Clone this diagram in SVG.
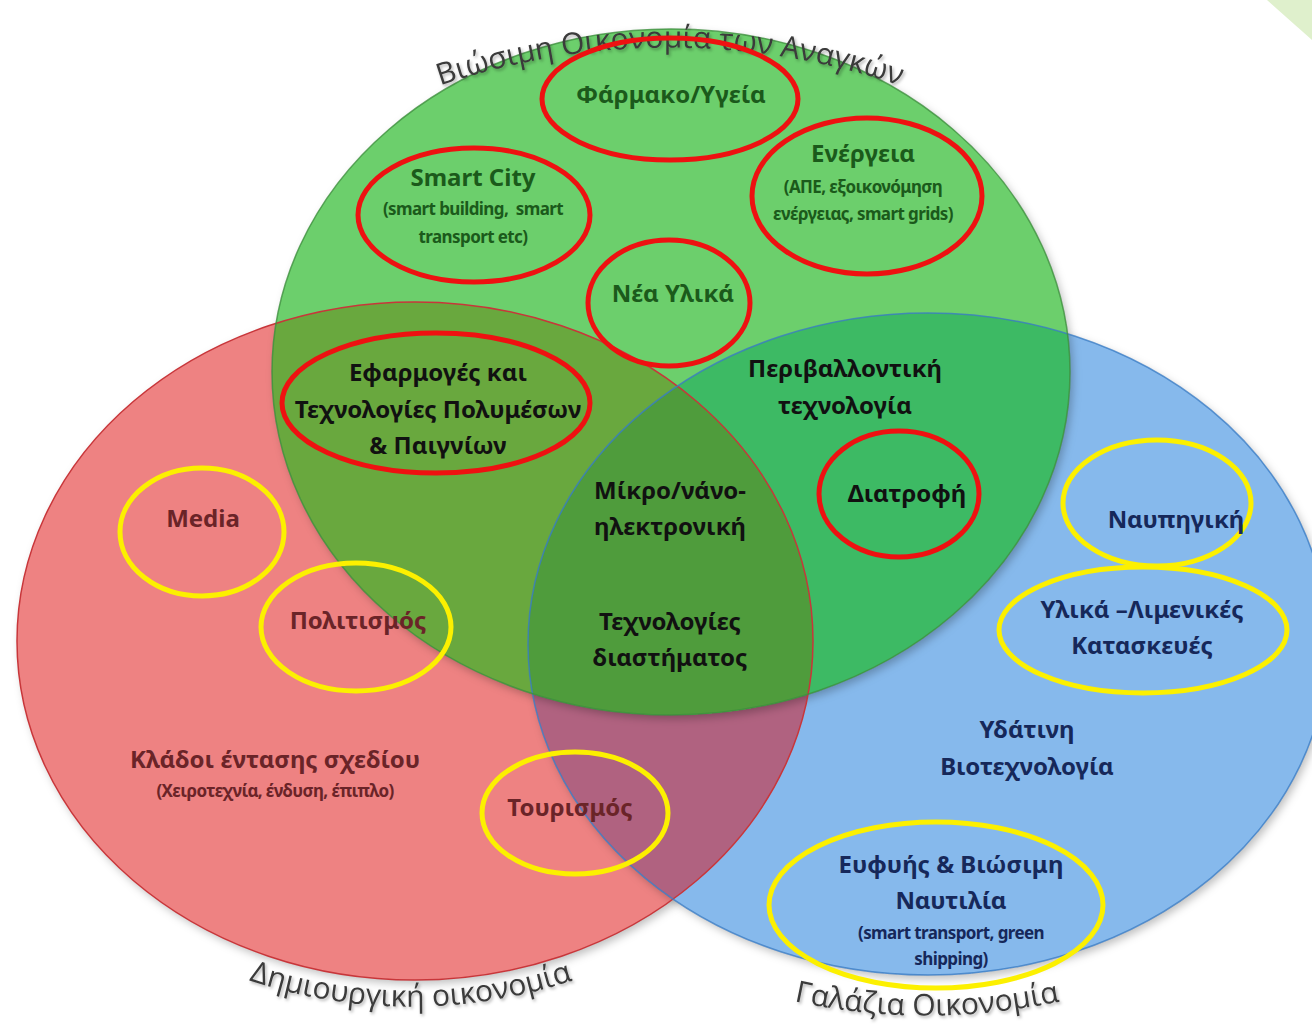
<svg xmlns="http://www.w3.org/2000/svg" xmlns:xlink="http://www.w3.org/1999/xlink" width="1312" height="1025" viewBox="0 0 1312 1025">
<style>
.t{font-family:"Noto Sans","Open Sans","DejaVu Sans",sans-serif;font-weight:bold;text-anchor:middle;font-size:24px}
.s{font-size:17px;letter-spacing:-0.6px}
.g{fill:#1b5a1b}
.k{fill:#111}
.m{fill:#6a2428}
.b{fill:#16285a}
.ring{fill:none;stroke-width:5}
.rr{stroke:#ee1111}
.yy{stroke:#fcf000}
.arc{font-family:"Open Sans","Noto Sans","DejaVu Sans",sans-serif;font-size:30px;fill:#3a3a3a}
</style>
<defs>
<filter id="sh" x="-10%" y="-10%" width="120%" height="120%">
<feDropShadow dx="3" dy="4" stdDeviation="4" flood-color="#000" flood-opacity="0.25"/>
</filter>
<filter id="tsh" x="-5%" y="-20%" width="110%" height="140%">
<feDropShadow dx="1.5" dy="2" stdDeviation="1.5" flood-color="#000" flood-opacity="0.3"/>
</filter>
<clipPath id="cRed"><ellipse cx="415" cy="641" rx="398" ry="339"/></clipPath>
<clipPath id="cBlue"><ellipse cx="928" cy="644" rx="400" ry="331"/></clipPath>
<path id="pTop" d="M 380,109 A 715 715 0 0 1 960,109"/>
<path id="pLeft" d="M 200,961 A 511 511 0 0 0 622,961"/>
<path id="pRight" d="M 700,973 A 627 627 0 0 0 1154,973"/>
</defs>
<rect width="1312" height="1025" fill="#fff"/>
<polygon points="1267,0 1312,0 1312,40" fill="#dff0cc"/>

<g id="circles">
<g id="red-circle">
<ellipse cx="415" cy="641" rx="398" ry="339" fill="#ee8282" filter="url(#sh)"/>
</g>
<g id="blue-circle">
<ellipse cx="928" cy="644" rx="400" ry="331" fill="#86b9ec" filter="url(#sh)"/>
<g clip-path="url(#cRed)"><ellipse cx="928" cy="644" rx="400" ry="331" fill="#b06280"/></g>
</g>
<g id="green-circle">
<ellipse cx="671" cy="372" rx="399" ry="343" fill="#6ccf6c" filter="url(#sh)"/>
<g clip-path="url(#cRed)"><ellipse cx="671" cy="372" rx="399" ry="343" fill="#69a83e"/></g>
<g clip-path="url(#cBlue)"><ellipse cx="671" cy="372" rx="399" ry="343" fill="#3dba64"/></g>
<g clip-path="url(#cRed)"><g clip-path="url(#cBlue)"><ellipse cx="671" cy="372" rx="399" ry="343" fill="#4f9c3c"/></g></g>
</g>
<ellipse cx="415" cy="641" rx="398" ry="339" fill="none" stroke="#c8363a" stroke-width="1.5"/>
<ellipse cx="928" cy="644" rx="400" ry="331" fill="none" stroke="#3a7cc4" stroke-width="1.5" stroke-opacity="0.8"/>
<ellipse cx="671" cy="372" rx="399" ry="343" fill="none" stroke="#3d8f3d" stroke-width="1.5" stroke-opacity="0.8"/>
</g>

<g id="labels" filter="url(#tsh)">
<text class="arc"><textPath xlink:href="#pTop" href="#pTop" startOffset="50%" text-anchor="middle">Βιώσιμη Οικονομία των Αναγκών</textPath></text>
<text class="arc"><textPath xlink:href="#pLeft" href="#pLeft" startOffset="50%" text-anchor="middle">Δημιουργική οικονομία</textPath></text>
<text class="arc"><textPath xlink:href="#pRight" href="#pRight" startOffset="50%" text-anchor="middle">Γαλάζια Οικονομία</textPath></text>
</g>

<g id="connectors"/>

<g id="node-farmako">
<ellipse class="ring rr" cx="670" cy="99" rx="128" ry="61"/>
<text class="t g" x="671" y="103">Φάρμακο/Υγεία</text>
</g>
<g id="node-smartcity">
<ellipse class="ring rr" cx="474" cy="215" rx="116" ry="67"/>
<text class="t g" x="473" y="186">Smart City</text>
<text class="t g s" x="473" y="215" xml:space="preserve">(smart building,  smart</text>
<text class="t g s" x="473" y="243">transport etc)</text>
</g>
<g id="node-energeia">
<ellipse class="ring rr" cx="867" cy="196" rx="115" ry="78"/>
<text class="t g" x="863" y="162">Ενέργεια</text>
<text class="t g s" x="863" y="193">(ΑΠΕ, εξοικονόμηση</text>
<text class="t g s" x="863" y="220">ενέργειας, smart grids)</text>
</g>
<g id="node-nea-ylika">
<ellipse class="ring rr" cx="669" cy="303" rx="81" ry="63"/>
<text class="t g" x="673" y="302">Νέα Υλικά</text>
</g>
<g id="node-efarmoges">
<ellipse class="ring rr" cx="436" cy="403" rx="154" ry="70"/>
<text class="t k" x="438" y="381">Εφαρμογές και</text>
<text class="t k" x="438" y="418">Τεχνολογίες Πολυμέσων</text>
<text class="t k" x="438" y="454">&amp; Παιγνίων</text>
</g>
<g id="node-perivallontiki">
<text class="t k" x="845" y="377">Περιβαλλοντική</text>
<text class="t k" x="845" y="414">τεχνολογία</text>
</g>
<g id="node-diatrofi">
<ellipse class="ring rr" cx="899" cy="494" rx="80" ry="63"/>
<text class="t k" x="907" y="502">Διατροφή</text>
</g>
<g id="node-mikro">
<text class="t k" x="670" y="499">Μίκρο/νάνο-</text>
<text class="t k" x="670" y="535">ηλεκτρονική</text>
</g>
<g id="node-diastima">
<text class="t k" x="670" y="630">Τεχνολογίες</text>
<text class="t k" x="670" y="666">διαστήματος</text>
</g>
<g id="node-media">
<ellipse class="ring yy" cx="202" cy="532" rx="82" ry="64"/>
<text class="t m" x="203" y="527">Media</text>
</g>
<g id="node-politismos">
<ellipse class="ring yy" cx="356" cy="627" rx="95" ry="64"/>
<text class="t m" x="358" y="629">Πολιτισμός</text>
</g>
<g id="node-kladoi">
<text class="t m" x="275" y="768">Κλάδοι έντασης σχεδίου</text>
<text class="t m s" x="275" y="797">(Χειροτεχνία, ένδυση, έπιπλο)</text>
</g>
<g id="node-tourismos">
<ellipse class="ring yy" cx="575" cy="813" rx="93" ry="61"/>
<text class="t m" x="570" y="816">Τουρισμός</text>
</g>
<g id="node-nafpigiki">
<ellipse class="ring yy" cx="1157" cy="503" rx="94" ry="63"/>
<text class="t b" x="1176" y="528">Ναυπηγική</text>
</g>
<g id="node-ylika-limenikes">
<ellipse class="ring yy" cx="1143" cy="630" rx="144" ry="63"/>
<text class="t b" x="1142" y="618">Υλικά –Λιμενικές</text>
<text class="t b" x="1142" y="654">Κατασκευές</text>
</g>
<g id="node-ydatini">
<text class="t b" x="1027" y="738">Υδάτινη</text>
<text class="t b" x="1027" y="775">Βιοτεχνολογία</text>
</g>
<g id="node-naftilia">
<ellipse class="ring yy" cx="936" cy="905" rx="167" ry="83"/>
<text class="t b" x="951" y="873">Ευφυής &amp; Βιώσιμη</text>
<text class="t b" x="951" y="909">Ναυτιλία</text>
<text class="t b s" x="951" y="939">(smart transport, green</text>
<text class="t b s" x="951" y="965">shipping)</text>
</g>
</svg>
